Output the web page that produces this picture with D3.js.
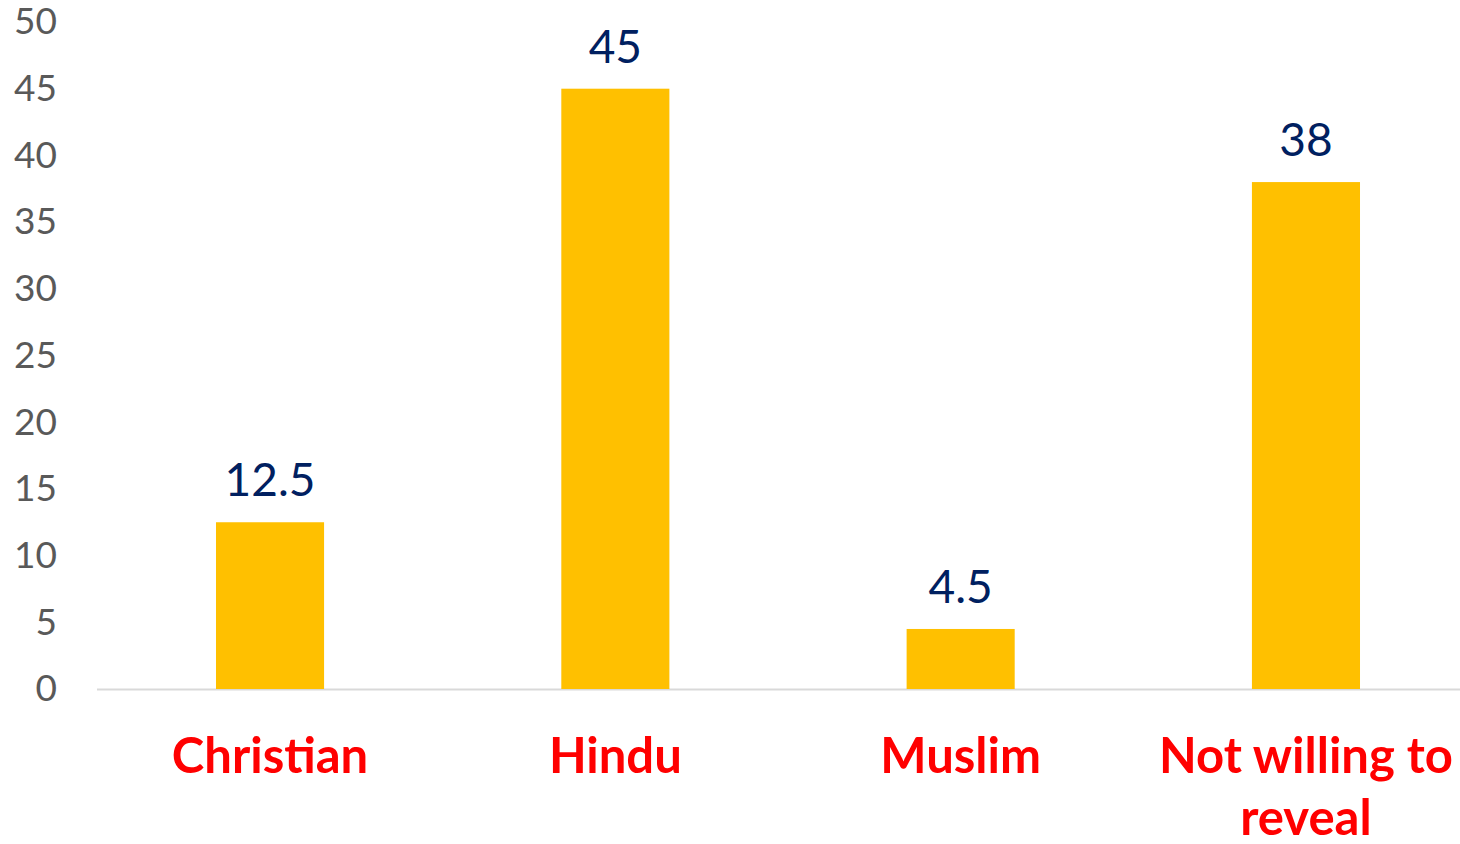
<!DOCTYPE html>
<html>
<head>
<meta charset="utf-8">
<script src="https://cdn.jsdelivr.net/npm/d3@7"></script>
<style>
  body { margin: 0; background: #fff; }
  svg { display: block; }
</style>
</head>
<body>
<div id="chart"></div>
<script>
// data
const categories = ["Christian", "Hindu", "Muslim", "Not willing to reveal"];
const values = [12.5, 45, 4.5, 38];
const valueLabels = ["12.5", "45", "4.5", "38"];
const yTicks = [0, 5, 10, 15, 20, 25, 30, 35, 40, 45, 50];

const W = 1460, H = 844;
const margin = {top: 22, left: 97, bottom: 155};

const svg = d3.select("#chart").append("svg")
    .attr("width", W)
    .attr("height", H);

// y scale: 0 at 689, 50 at 22
const y = d3.scaleLinear()
    .domain([0, 50])
    .range([H - margin.bottom, margin.top]);

// band scale - the plot runs off the right edge a bit, like the original
const x = d3.scaleBand()
    .domain(categories)
    .range([margin.left, margin.left + 1382])
    .paddingInner(0.687)
    .paddingOuter(0.3446);

// y axis labels, no line, no ticks
const yAxis = svg.append("g")
    .attr("transform", `translate(${margin.left - 40},0)`)
    .call(d3.axisLeft(y).tickValues(yTicks).tickSize(0).tickPadding(0))
yAxis.select(".domain").remove();
yAxis.selectAll("text")
    .attr("fill", "#595959")
    .style("font-family", "Lato, sans-serif")
    .style("font-size", "37px");

// baseline
svg.append("line")
    .attr("x1", margin.left)
    .attr("x2", W)
    .attr("y1", y(0) + 0.5)
    .attr("y2", y(0) + 0.5)
    .attr("stroke", "#d9d9d9")
    .attr("stroke-width", 2);

// bars
svg.selectAll(".bar")
    .data(categories)
    .enter()
    .append("rect")
    .attr("class", "bar")
    .attr("x", d => x(d))
    .attr("width", x.bandwidth())
    .attr("y", (d, i) => y(values[i]))
    .attr("height", (d, i) => y(0) - y(values[i]))
    .attr("fill", "#ffc000");

// value labels above bars
svg.selectAll(".val")
    .data(categories)
    .enter()
    .append("text")
    .attr("class", "val")
    .attr("x", d => x(d) + x.bandwidth() / 2)
    .attr("y", (d, i) => y(values[i]) - 26)
    .attr("text-anchor", "middle")
    .attr("fill", "#002060")
    .style("font-family", "Lato, sans-serif")
    .style("font-size", "46px")
    .text((d, i) => valueLabels[i]);

// category labels, wrap the long one
const catLines = {"Not willing to reveal": ["Not willing to", "reveal"]};
const cat = svg.selectAll(".cat")
    .data(categories)
    .enter()
    .append("text")
    .attr("class", "cat")
    .attr("text-anchor", "middle")
    .attr("fill", "#ff0000")
    .style("font-family", "Lato, sans-serif")
    .style("font-weight", "bold")
    .style("font-size", "49px");

cat.each(function(d) {
    let lines = catLines[d] || [d];
    let cx = x(d) + x.bandwidth() / 2;
    d3.select(this).selectAll("tspan")
        .data(lines)
        .enter()
        .append("tspan")
        .attr("x", cx)
        .attr("y", (l, j) => 773 + j * 62)
        .text(l => l);
});
</script>
</body>
</html>
